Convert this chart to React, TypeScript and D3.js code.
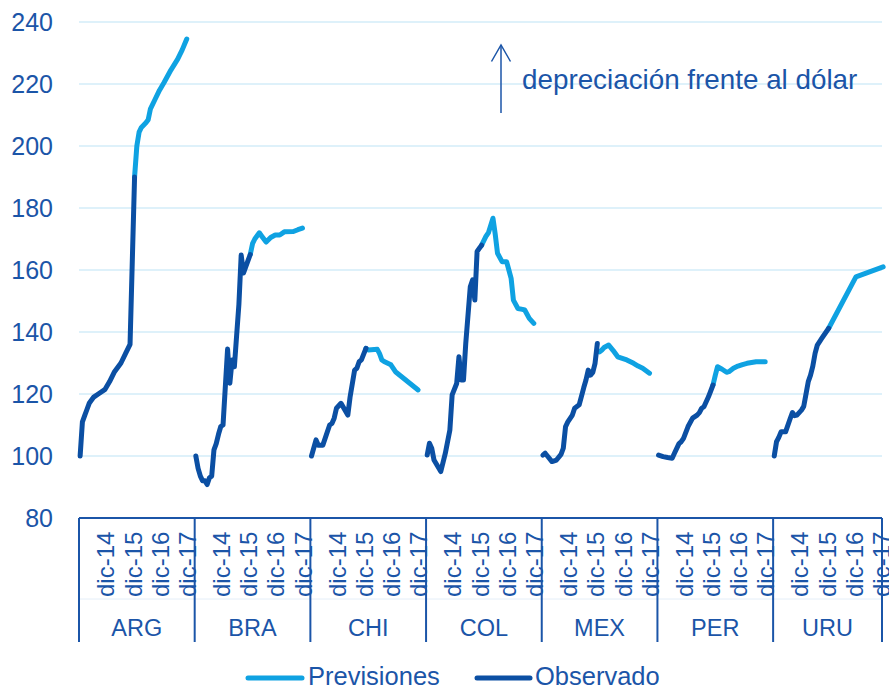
import React from 'react';
import * as d3 from 'd3';

const countries = ['ARG', 'BRA', 'CHI', 'COL', 'MEX', 'PER', 'URU'];
const slotsPerGroup = [51, 51, 51, 51, 51, 51, 48];
const dateLabels = ['dic-14', 'dic-15', 'dic-16', 'dic-17'];
const dateLabelIdx = [12, 24, 36, 48];
const yTicks = [80, 100, 120, 140, 160, 180, 200, 220, 240];

// [month index since dic-13, index value]
const obsARG: [number, number][] = [[0,100],[1,111],[2,113],[3,115],[4,117],[6,119],[8,120],[11,121.5],[13,124],[15,127],[18,130],[20,133],[22,136],[24,190]];
const obsBRA: [number, number][] = [[0,100],[1,96],[2,93.5],[3,92],[4,92],[5,90.8],[6,93],[7,93.5],[8,102],[9,104],[10,107],[11,109.5],[12,110],[14,134.5],[15,123.5],[16,131],[17,128.8],[18,139],[19,149],[20,164.8],[21,159],[22,161],[23,163],[24,165]];
const obsCHI: [number, number][] = [[0,100],[2,105.2],[3,103.5],[5,103.5],[8,110],[9,110.5],[10,112.2],[11,115.4],[13,117],[16,113.2],[17,119],[19,127.7],[20,128.3],[21,130.4],[22,131],[24,134.7]];
const obsCOL: [number, number][] = [[0,100.3],[1,104.1],[2,102.5],[3,98.7],[6,95],[8,100.9],[10,108.4],[11,119.7],[13,123.4],[14,132],[15,124.5],[16,124.5],[17,136.3],[19,154.6],[20,156.8],[21,150.3],[22,166],[23,167],[24,168]];
const obsMEX: [number, number][] = [[0,100.3],[1,100.9],[2,100],[4,98.2],[6,98.7],[8,100.5],[9,102.5],[10,109.5],[11,111],[13,113.2],[14,115.4],[16,116.5],[18,122],[19,124.5],[20,127.7],[21,126.1],[22,127],[23,129.9],[24,136.3]];
const obsPER: [number, number][] = [[0,100.3],[2,99.8],[4,99.5],[6,99.3],[7,100.9],[9,104],[10,104.6],[11,105.7],[13,109.5],[15,112.2],[17,113.2],[18,114],[19,115.4],[20,115.9],[22,119.1],[24,122.9]];
const obsURU: [number, number][] = [[0,100],[1,104.6],[2,106],[3,107.8],[5,107.8],[7,112],[8,114],[9,113],[10,113.2],[12,114.8],[13,116],[14,120],[15,124],[16,126.1],[17,129],[18,133.1],[19,135.8],[21,138],[24,141.2]];

const fcARG: [number, number][] = [[24,190],[25,200],[26,204.5],[27,206],[29,207.5],[30,208.5],[31,212],[33,215],[35,218],[37,220.5],[40,224.5],[43,228],[45,231],[47,234.5]];
const fcBRA: [number, number][] = [[24,165],[25,168.5],[26,170],[28,172],[29,171],[31,169],[33,170.5],[35,171.3],[37,171.3],[39,172.3],[43,172.4],[45,173],[47,173.5]];
const fcCHI: [number, number][] = [[24,134.7],[25,134.2],[29,134.4],[30,133],[31,131],[32,130.5],[35,129.4],[37,127.2],[47,121.3]];
const fcCOL: [number, number][] = [[24,168],[26,171],[27,172],[29,176.7],[30,171.5],[31,165.4],[33,162.7],[35,162.7],[36,160],[37,157.3],[38,150.3],[40,147.6],[42,147.3],[43,147.1],[45,144.4],[47,142.8]];
const fcMEX: [number, number][] = [[25,133.6],[26,134.2],[27,135],[29,135.8],[31,134],[33,132],[35,131.5],[37,131],[40,129.9],[42,129],[44,128.3],[47,126.7]];
const fcPER: [number, number][] = [[24,122.9],[25,126],[26,128.8],[28,128],[30,127],[31,127.2],[33,128.3],[35,129],[37,129.5],[39,129.9],[43,130.4],[47,130.4]];
const fcURU: [number, number][] = [[24,141.2],[36,157.8],[48,161]];

const observed = [obsARG, obsBRA, obsCHI, obsCOL, obsMEX, obsPER, obsURU];
const forecast = [fcARG, fcBRA, fcCHI, fcCOL, fcMEX, fcPER, fcURU];

const TEXT = '#1b55a8';
const OBS = '#0b4fa3';
const FC = '#0fa2e2';
const GRID = '#d3edf9';
const FONT = '"Liberation Sans", Arial, sans-serif';

export default function App() {
  const W = 889, H = 690;
  const left = 79, right = 882, top = 22, bottom = 518;
  const totalSlots = d3.sum(slotsPerGroup);
  const x = d3.scaleLinear().domain([0, totalSlots]).range([left, right]);
  const y = d3.scaleLinear().domain([80, 240]).range([bottom, top]);
  const offsets = slotsPerGroup.map((_, i) => d3.sum(slotsPerGroup.slice(0, i)));

  const lineFor = (off: number) =>
    d3.line<[number, number]>().x(d => x(off + d[0] + 0.5)).y(d => y(d[1]));

  return (
    <svg width={W} height={H} style={{ position: 'absolute', left: 0, top: 0 }} fontFamily={FONT}>
      <rect width={W} height={H} fill="#fff" />
      {yTicks.filter(t => t > 80).map(t => (
        <line key={t} x1={left} x2={right} y1={y(t)} y2={y(t)} stroke={GRID} strokeWidth={1.3} />
      ))}
      {yTicks.map(t => (
        <text key={t} x={53} y={y(t)} dy="0.36em" textAnchor="end" fontSize={25} fill={TEXT}>{t}</text>
      ))}
      <line x1={left} x2={right} y1={599} y2={599} stroke="#e4eef8" strokeWidth={1} />
      {countries.map((c, i) => {
        const off = offsets[i];
        return (
          <g key={c}>
            <path d={lineFor(off)(forecast[i]) || ''} fill="none" stroke={FC} strokeWidth={5} strokeLinejoin="round" strokeLinecap="round" />
            <path d={lineFor(off)(observed[i]) || ''} fill="none" stroke={OBS} strokeWidth={5} strokeLinejoin="round" strokeLinecap="round" />
          </g>
        );
      })}
      {/* category axis */}
      <line x1={left} x2={right} y1={bottom} y2={bottom} stroke={TEXT} strokeWidth={2} />
      {[...offsets, totalSlots].map((o, i) => (
        <line key={i} x1={x(o)} x2={x(o)} y1={bottom} y2={642} stroke={TEXT} strokeWidth={2} />
      ))}
      {countries.map((c, i) => (
        <g key={c}>
          {dateLabels.map((lab, j) => {
            const cx = x(offsets[i] + dateLabelIdx[j] + 0.5) + 7;
            return (
              <text key={lab} transform={`translate(${cx},597) rotate(-90)`} textAnchor="start" fontSize={24} fill={TEXT}>{lab}</text>
            );
          })}
          <text x={(x(offsets[i]) + x(offsets[i] + slotsPerGroup[i])) / 2} y={636} textAnchor="middle" fontSize={23.5} fill={TEXT}>{c}</text>
        </g>
      ))}
      {/* annotation */}
      <line x1={501} x2={501} y1={113} y2={45} stroke={TEXT} strokeWidth={1.5} />
      <polyline points="491.5,61.5 501,45 510.5,61.5" fill="none" stroke={TEXT} strokeWidth={1.5} />
      <text x={522} y={89} fontSize={27.8} fill={TEXT}>depreciación frente al dólar</text>
      {/* legend */}
      <line x1={248} x2={302} y1={678} y2={678} stroke={FC} strokeWidth={5} strokeLinecap="round" />
      <text x={308} y={685} fontSize={25.5} fill={TEXT}>Previsiones</text>
      <line x1={477} x2={530} y1={678} y2={678} stroke={OBS} strokeWidth={5} strokeLinecap="round" />
      <text x={535} y={685} fontSize={25.5} fill={TEXT}>Observado</text>
    </svg>
  );
}
